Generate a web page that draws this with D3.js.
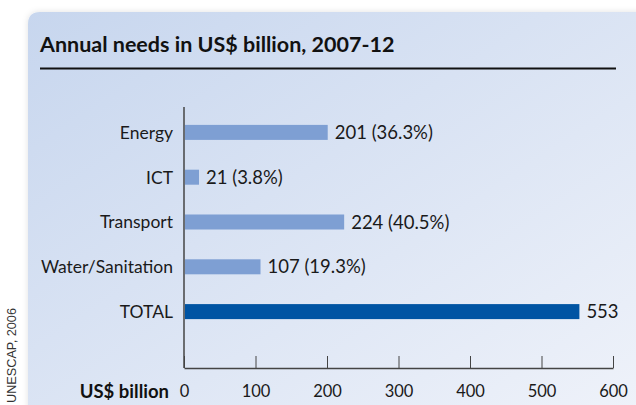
<!DOCTYPE html>
<html>
<head>
<meta charset="utf-8">
<script src="https://cdn.jsdelivr.net/npm/d3@7"></script>
<style>
  body { margin: 0; background: #fff; }
  svg { display: block; font-family: Lato, "Noto Sans", sans-serif; }
</style>
</head>
<body>
<div id="chart"></div>
<script>
var categories = ["Energy", "ICT", "Transport", "Water/Sanitation", "TOTAL"];
var values = [201, 21, 224, 107, 553];
var valueLabels = ["201 (36.3%)", "21 (3.8%)", "224 (40.5%)", "107 (19.3%)", "553"];
var tickValues = [0, 100, 200, 300, 400, 500, 600];

var width = 636,
    height = 405;

var svg = d3.select('#chart')
  .append('svg')
  .attr('width', width)
  .attr('height', height);

var defs = svg.append('defs');
var grad = defs.append('linearGradient')
  .attr('id', 'bg')
  .attr('x1', '0%').attr('y1', '0%')
  .attr('x2', '100%').attr('y2', '100%');
grad.append('stop').attr('offset', '0%').attr('stop-color', '#c7d6ee');
grad.append('stop').attr('offset', '100%').attr('stop-color', '#f0f3fa');

var shadow = defs.append('filter').attr('id', 'shadow')
  .attr('x', '-10%').attr('y', '-10%').attr('width', '120%').attr('height', '120%');
shadow.append('feGaussianBlur').attr('in', 'SourceAlpha').attr('stdDeviation', 3);
shadow.append('feOffset').attr('dx', 0).attr('dy', 0).attr('result', 'blur');
shadow.append('feFlood').attr('flood-color', '#000').attr('flood-opacity', 0.12);
shadow.append('feComposite').attr('in2', 'blur').attr('operator', 'in');
var merge = shadow.append('feMerge');
merge.append('feMergeNode');
merge.append('feMergeNode').attr('in', 'SourceGraphic');

// panel with rounded top-left corner
svg.append('path')
  .attr('d', 'M28,' + (height + 20) + ' V24 Q28,12 40,12 H' + (width + 20) + ' V' + (height + 20) + ' Z')
  .attr('fill', 'url(#bg)')
  .attr('filter', 'url(#shadow)');

svg.append('text')
  .attr('x', 40)
  .attr('y', 52)
  .attr('font-size', 21.5)
  .attr('font-weight', 'bold')
  .attr('fill', '#111')
  .text('Annual needs in US$ billion, 2007-12');

svg.append('line')
  .attr('x1', 40).attr('x2', 616)
  .attr('y1', 68.5).attr('y2', 68.5)
  .attr('stroke', '#111')
  .attr('stroke-width', 2);

var x = d3.scaleLinear().domain([0, 600]).range([184, 613]);
var y = d3.scaleBand().domain(categories).range([110, 334])
  .paddingInner(0.665).paddingOuter(0.3325);

var axisY = 368;

// x axis, ticks pointing up
var xAxis = svg.append('g')
  .attr('transform', 'translate(0,' + axisY + ')')
  .call(d3.axisBottom(x).tickValues(tickValues).tickSize(-12).tickPadding(17).tickSizeOuter(0));
xAxis.select('.domain').attr('stroke', '#444').attr('stroke-width', 1.5);
xAxis.selectAll('.tick line').attr('stroke', '#444');
xAxis.selectAll('.tick text')
  .attr('font-size', 16.5)
  .attr('fill', '#1a1a1a')
  .attr('font-family', 'Lato, sans-serif');

// y axis line
svg.append('line')
  .attr('x1', x(0)).attr('x2', x(0))
  .attr('y1', 107).attr('y2', axisY)
  .attr('stroke', '#444')
  .attr('stroke-width', 1.5);

svg.selectAll('.bar')
  .data(values)
  .enter()
  .append('rect')
  .attr('class', 'bar')
  .attr('x', x(0) + 1)
  .attr('y', function(d, i) { return y(categories[i]); })
  .attr('width', function(d) { return x(d) - x(0) - 1; })
  .attr('height', y.bandwidth())
  .attr('fill', function(d, i) { return categories[i] == 'TOTAL' ? '#0054a3' : '#7e9fd3'; });

svg.selectAll('.cat')
  .data(categories)
  .enter()
  .append('text')
  .attr('class', 'cat')
  .attr('x', 173)
  .attr('y', function(d) { return y(d) + y.bandwidth() / 2; })
  .attr('dy', '0.36em')
  .attr('text-anchor', 'end')
  .attr('font-size', 17.5)
  .attr('fill', '#1a1a1a')
  .text(function(d) { return d; });

svg.selectAll('.val')
  .data(values)
  .enter()
  .append('text')
  .attr('class', 'val')
  .attr('x', function(d) { return x(d) + 7; })
  .attr('y', function(d, i) { return y(categories[i]) + y.bandwidth() / 2; })
  .attr('dy', '0.36em')
  .attr('font-size', 18.5)
  .attr('fill', '#1a1a1a')
  .text(function(d, i) { return valueLabels[i]; });

svg.append('text')
  .attr('x', 169)
  .attr('y', axisY + 30)
  .attr('text-anchor', 'end')
  .attr('font-size', 18.5)
  .attr('font-weight', 'bold')
  .attr('fill', '#111')
  .text('US$ billion');

svg.append('text')
  .attr('transform', 'translate(16,403) rotate(-90)')
  .attr('font-family', '"Liberation Sans", Arial, sans-serif')
  .attr('font-size', 12.7)
  .attr('fill', '#333')
  .text('UNESCAP, 2006');
</script>
</body>
</html>
